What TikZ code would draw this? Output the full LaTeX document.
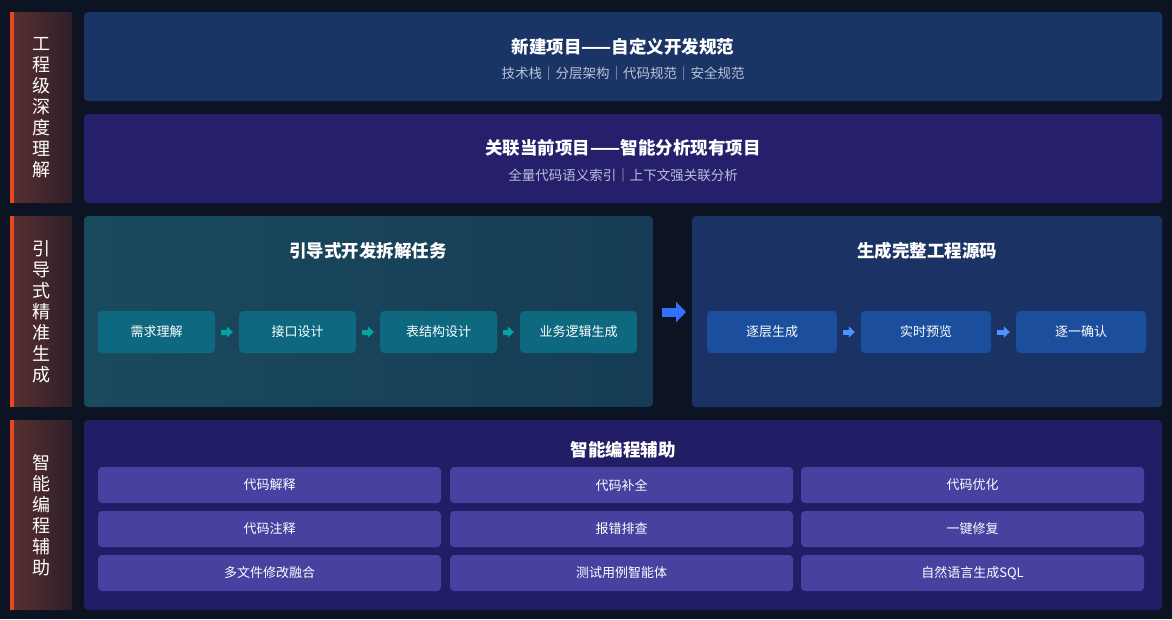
\documentclass[tikz,border=0pt]{standalone}
\usepackage{fontspec}
\setmainfont{Noto Sans CJK SC}
\usetikzlibrary{arrows.meta}
\definecolor{bg}{HTML}{0C1424}
\definecolor{lab1}{HTML}{5A3030}
\definecolor{lab2}{HTML}{2E1F2A}
\definecolor{redbar}{HTML}{E8481E}
\definecolor{rowA}{HTML}{1B3466}
\definecolor{rowB}{HTML}{261F6C}
\definecolor{tealbg}{HTML}{1A4A5E}
\definecolor{tealbg2}{HTML}{163C55}
\definecolor{tealbox}{HTML}{0D6880}
\definecolor{bluebg}{HTML}{1A3264}
\definecolor{bluebox}{HTML}{1B4E9C}
\definecolor{purbg}{HTML}{221E66}
\definecolor{purbox}{HTML}{4741A0}
\definecolor{sub}{HTML}{B8C2D8}
\begin{document}
\begin{tikzpicture}[x=1pt,y=-1pt,
  lab/.style={rounded corners=1pt,left color=lab1,right color=lab2},
  panel/.style={rounded corners=4pt},
  small/.style={rounded corners=4pt,text=white,font=\fontsize{13}{15}\selectfont},
  ttl/.style={text=white,font=\fontsize{17.5}{20}\selectfont\bfseries},
  sbt/.style={text=sub,font=\fontsize{13.5}{15}\selectfont},
  vt/.style={text=white,font=\fontsize{18}{21}\selectfont,align=center},
  arr/.style={line width=5pt,-{Triangle[length=6pt,width=11pt]},draw=teal!70!cyan},
  arrb/.style={line width=5pt,-{Triangle[length=6pt,width=11pt]},draw=blue!60!cyan!70!white}]
\fill[bg] (0,0) rectangle (1172,619);
\foreach \ya/\yb/\n in {12/203/l1,216/407/l2,420/610/l3}{
  \fill[lab] (10,\ya) rectangle (72,\yb);
  \fill[redbar] (10,\ya) rectangle (14,\yb);
}
\node[vt] (t1) at (41,107.5) {工\\程\\级\\深\\度\\理\\解};
\node[vt] (t2) at (41,311.5) {引\\导\\式\\精\\准\\生\\成};
\node[vt] (t3) at (41,515) {智\\能\\编\\程\\辅\\助};
\fill[panel,rowA] (84,12) rectangle (1162,101);
\node[ttl] (a1) at (623,47) {新建项目——自定义开发规范};
\node[sbt] (a2) at (623,73) {技术栈｜分层架构｜代码规范｜安全规范};
\fill[panel,rowB] (84,114) rectangle (1162,203);
\node[ttl] (b1) at (623,148) {关联当前项目——智能分析现有项目};
\node[sbt] (b2) at (623,175) {全量代码语义索引｜上下文强关联分析};
\fill[panel,left color=tealbg,right color=tealbg2] (84,216) rectangle (653,407);
\node[ttl] (c1) at (368,251) {引导式开发拆解任务};
\fill[panel,bluebg] (692,216) rectangle (1162,407);
\node[ttl] (d1) at (927,251) {生成完整工程源码};
\foreach \xa/\n/\t in {98/s1/需求理解,239/s2/接口设计,380/s3/表结构设计,520/s4/业务逻辑生成}{
  \node[small,fill=tealbox,minimum width=117pt,minimum height=42pt] (\n) at (\xa+58.5,332) {\t};
}
\foreach \xa/\n/\t in {707/r1/逐层生成,861/r2/实时预览,1016/r3/逐一确认}{
  \node[small,fill=bluebox,minimum width=130pt,minimum height=42pt] (\n) at (\xa+65,332) {\t};
}
\foreach \p/\q in {s1/s2,s2/s3,s3/s4}{
  \draw[arr,shorten <=6pt,shorten >=6pt] (\p.east) -- (\q.west);
}
\foreach \p/\q in {r1/r2,r2/r3}{
  \draw[arrb,shorten <=6pt,shorten >=6pt] (\p.east) -- (\q.west);
}
\coordinate (ba) at (662,312);
\coordinate (bb) at (686,312);
\draw[line width=9pt,-{Triangle[length=10pt,width=20pt]},draw=blue!70!cyan!80!white] (ba) -- (bb);
\fill[panel,purbg] (84,420) rectangle (1162,610);
\node[ttl] (e1) at (623,450) {智能编程辅助};
\foreach \i/\xa in {0/98,1/450,2/801}{
 \foreach \j/\ya in {0/467,1/511,2/555}{
  \node[small,fill=purbox,minimum width=343pt,minimum height=36pt] (g\i\j) at (\xa+171.5,\ya+18) {};
 }
}
\node[small] at (g00) {代码解释};
\node[small] at (g10) {代码补全};
\node[small] at (g20) {代码优化};
\node[small] at (g01) {代码注释};
\node[small] at (g11) {报错排查};
\node[small] at (g21) {一键修复};
\node[small] at (g02) {多文件修改融合};
\node[small] at (g12) {测试用例智能体};
\node[small] at (g22) {自然语言生成SQL};
\end{tikzpicture}
\end{document}
